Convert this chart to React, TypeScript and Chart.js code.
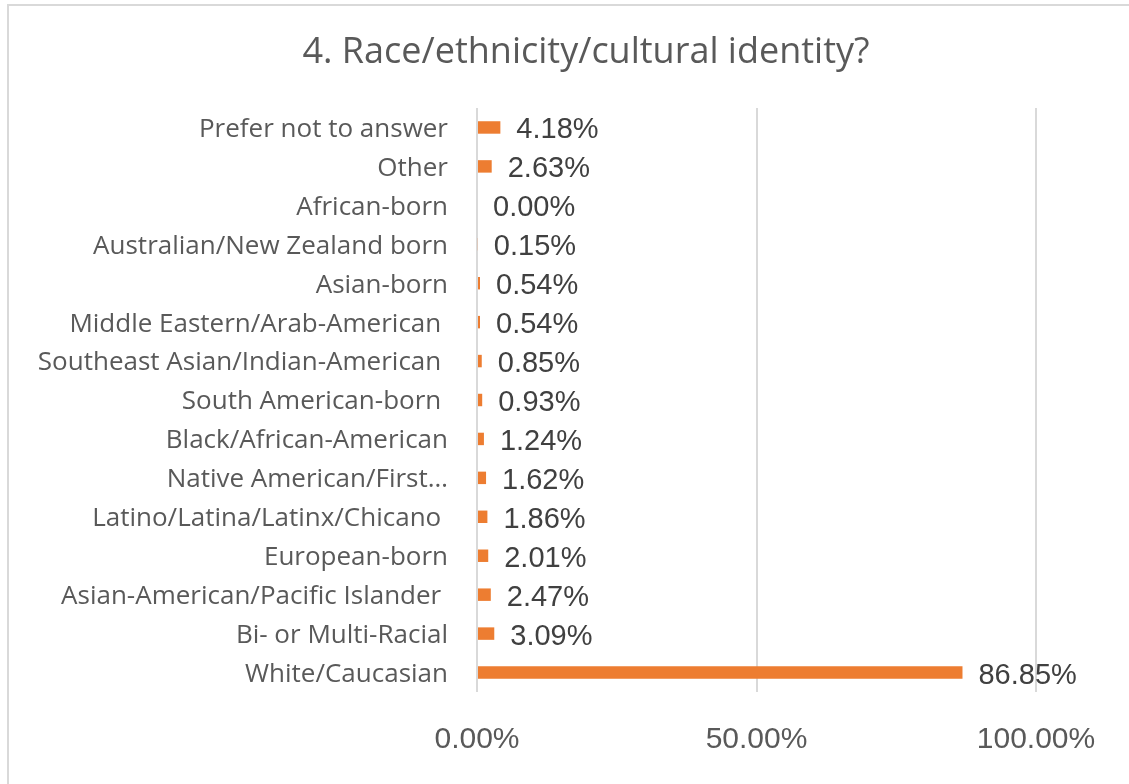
import React, { useEffect, useRef } from "react";
import { Chart, registerables } from "chart.js";

Chart.register(...registerables);

const chartTitle = "4. Race/ethnicity/cultural identity?";

const categories = [
  "Prefer not to answer",
  "Other",
  "African-born",
  "Australian/New Zealand born",
  "Asian-born",
  "Middle Eastern/Arab-American ",
  "Southeast Asian/Indian-American ",
  "South American-born ",
  "Black/African-American",
  "Native American/First…",
  "Latino/Latina/Latinx/Chicano ",
  "European-born",
  "Asian-American/Pacific Islander ",
  "Bi- or Multi-Racial",
  "White/Caucasian",
];

const percentValues = [
  4.18, 2.63, 0.0, 0.15, 0.54, 0.54, 0.85, 0.93, 1.24, 1.62, 1.86, 2.01, 2.47, 3.09, 86.85,
];

const xTickValues = [0, 50, 100];

const framePlugin = {
  id: "frame",
  beforeDraw(chart: any) {
    const { ctx, width, height } = chart;
    ctx.save();
    ctx.fillStyle = "#ffffff";
    ctx.fillRect(0, 0, width, height);
    ctx.strokeStyle = "#d9d9d9";
    ctx.lineWidth = 2;
    ctx.beginPath();
    ctx.moveTo(8, height + 2);
    ctx.lineTo(8, 5);
    ctx.lineTo(width + 2, 5);
    ctx.stroke();
    ctx.restore();
  },
  afterDraw(chart: any) {
    const { ctx } = chart;
    ctx.save();
    ctx.fillStyle = "#595959";
    ctx.font = "400 36px 'Open Sans'";
    ctx.textAlign = "center";
    ctx.textBaseline = "middle";
    ctx.fillText(chartTitle, 586, 53);
    ctx.restore();
  },
};

const valueLabelPlugin = {
  id: "valueLabels",
  afterDatasetsDraw(chart: any) {
    const { ctx } = chart;
    const meta = chart.getDatasetMeta(0);
    const data = chart.data.datasets[0].data as number[];
    ctx.save();
    ctx.fillStyle = "#404040";
    ctx.font = "29px 'Liberation Sans'";
    ctx.textAlign = "left";
    ctx.textBaseline = "middle";
    meta.data.forEach((el: any, i: number) => {
      ctx.fillText(data[i].toFixed(2) + "%", el.x + 16, el.y + 3);
    });
    ctx.restore();
  },
};

export default function App() {
  const canvasRef = useRef<HTMLCanvasElement | null>(null);

  useEffect(() => {
    if (!canvasRef.current) return;
    const chart = new Chart(canvasRef.current, {
      type: "bar",
      data: {
        labels: categories,
        datasets: [
          {
            data: percentValues,
            backgroundColor: "#ed7d31",
            borderWidth: 0,
            categoryPercentage: 1,
            barPercentage: 0.32,
          },
        ],
      },
      options: {
        indexAxis: "y",
        animation: false,
        responsive: true,
        maintainAspectRatio: false,
        layout: { padding: { top: 108, right: 93, bottom: 0, left: 0 } },
        plugins: {
          legend: { display: false },
          title: { display: false },
          tooltip: { enabled: false },
        },
        scales: {
          x: {
            min: 0,
            max: 100,
            afterBuildTicks(scale: any) {
              scale.ticks = xTickValues.map((v) => ({ value: v }));
            },
            afterFit(scale: any) {
              scale.height = 92;
            },
            grid: { color: "#d9d9d9", lineWidth: 2, drawTicks: false },
            border: { display: false },
            ticks: {
              padding: 30,
              color: "#595959",
              font: { family: "'Liberation Sans'", size: 30 },
              callback: (v: any) => Number(v).toFixed(2) + "%",
            },
          },
          y: {
            afterFit(scale: any) {
              scale.width = 477;
            },
            grid: { display: false, drawTicks: false },
            border: { display: false },
            ticks: {
              padding: 29,
              labelOffset: 2,
              autoSkip: false,
              color: "#595959",
              font: { family: "'Open Sans'", size: 26 },
            },
          },
        },
      },
      plugins: [framePlugin, valueLabelPlugin],
    });
    return () => chart.destroy();
  }, []);

  return (
    <div style={{ position: "fixed", left: 0, top: 0, width: 1129, height: 784, background: "#fff" }}>
      <canvas ref={canvasRef} />
    </div>
  );
}
